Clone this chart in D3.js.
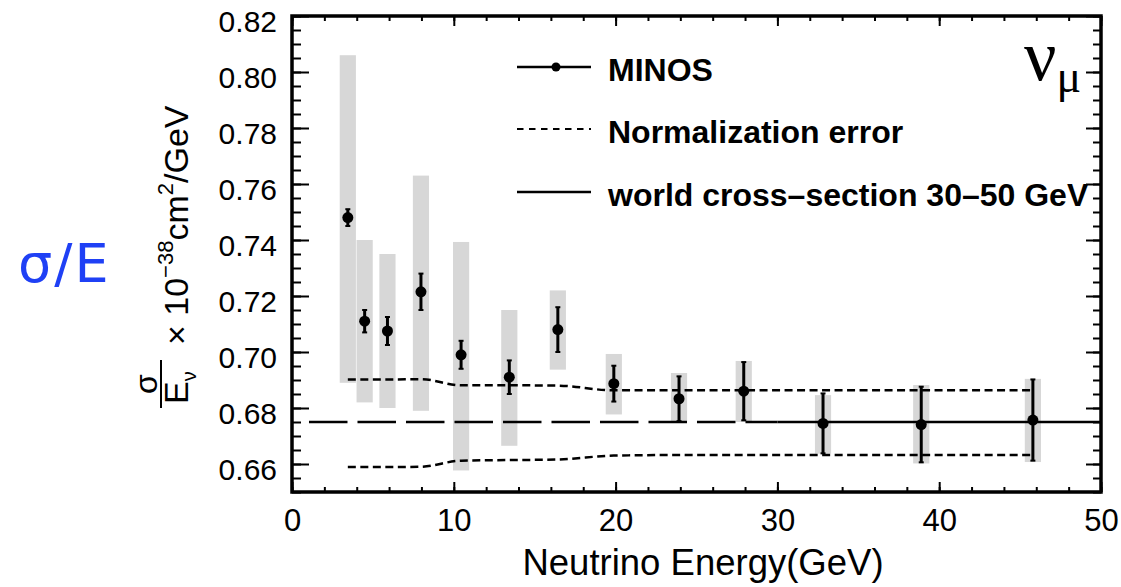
<!DOCTYPE html>
<html>
<head>
<meta charset="utf-8">
<script src="https://cdn.jsdelivr.net/npm/d3@7"></script>
<style>
  body { margin: 0; background: #fff; }
  text { font-family: "Liberation Sans", Arial, sans-serif; }
</style>
</head>
<body>
<svg id="chart" width="1121" height="587"></svg>
<script>
// MINOS nu_mu cross-section / energy
var energy   = [3.45, 4.49, 5.90, 7.97, 10.45, 13.43, 16.43, 19.89, 23.92, 27.92, 32.82, 38.89, 45.79];
var sigmaE   = [0.748, 0.711, 0.7075, 0.7215, 0.699, 0.691, 0.708, 0.6887, 0.6833, 0.686, 0.6745, 0.6741, 0.6757];
var statErr  = [0.003, 0.004, 0.005, 0.0065, 0.005, 0.006, 0.008, 0.0064, 0.008, 0.0104, 0.0107, 0.0135, 0.0145];
var bandLow  = [0.689, 0.682, 0.680, 0.679, 0.6577, 0.6665, 0.6937, 0.6777, 0.675, 0.675, 0.6637, 0.6602, 0.6607];
var bandHigh = [0.806, 0.740, 0.735, 0.763, 0.7393, 0.715, 0.722, 0.6993, 0.6925, 0.6968, 0.6846, 0.6882, 0.6904];
var binHalf  = 0.5;

// normalization error envelope
var normUpper = [0.6902, 0.6902, 0.6902, 0.6903, 0.6881, 0.6881, 0.6880, 0.6863, 0.6863, 0.6863, 0.6863, 0.6863, 0.6863];
var normLower = [0.6589, 0.6589, 0.6589, 0.6590, 0.6612, 0.6614, 0.6616, 0.6630, 0.6632, 0.6632, 0.6632, 0.6632, 0.6632];

// world average (fit 30-50 GeV), extrapolated below 30
var worldValue  = 0.675;
var worldDashed = [1.05, 30];
var worldSolid  = [30, 50];

var xTicks = [0, 10, 20, 30, 40, 50];
var yTicks = [0.66, 0.68, 0.70, 0.72, 0.74, 0.76, 0.78, 0.80, 0.82];

var legendLabels = ["MINOS", "Normalization error", "world cross\u2013section 30\u201350 GeV"];

(function () {
  var svg = d3.select("#chart");
  var pLeft = 292, pRight = 1101, pTop = 16, pBottom = 492;

  var x = d3.scaleLinear().domain([0, 50]).range([pLeft, pRight]);
  var y = d3.scaleLinear().domain([0.65, 0.82]).range([pBottom, pTop]);

  var pts = energy.map(function (e, i) {
    return {e: e, v: sigmaE[i], err: statErr[i], lo: bandLow[i], hi: bandHigh[i], up: normUpper[i], dn: normLower[i]};
  });

  // systematic bands
  svg.append("g").selectAll("rect").data(pts).enter().append("rect")
    .attr("x", d => x(d.e - binHalf))
    .attr("width", d => x(d.e + binHalf) - x(d.e - binHalf))
    .attr("y", d => y(d.hi))
    .attr("height", d => y(d.lo) - y(d.hi))
    .attr("fill", "#d7d7d7");

  // normalization curves
  var upLine = d3.line().x(d => x(d.e)).y(d => y(d.up)).curve(d3.curveMonotoneX);
  var dnLine = d3.line().x(d => x(d.e)).y(d => y(d.dn)).curve(d3.curveMonotoneX);
  [upLine, dnLine].forEach(function (ln) {
    svg.append("path").datum(pts).attr("d", ln)
      .attr("fill", "none").attr("stroke", "#000")
      .attr("stroke-width", 2.5).attr("stroke-dasharray", "8,4.5");
  });

  // world line
  svg.append("line")
    .attr("x1", x(worldDashed[0])).attr("x2", x(worldDashed[1]))
    .attr("y1", y(worldValue)).attr("y2", y(worldValue))
    .attr("stroke", "#000").attr("stroke-width", 2.6).attr("stroke-dasharray", "38.5,10");
  svg.append("line")
    .attr("x1", x(worldSolid[0])).attr("x2", x(worldSolid[1]))
    .attr("y1", y(worldValue)).attr("y2", y(worldValue))
    .attr("stroke", "#000").attr("stroke-width", 2.6);

  // error bars + points
  var eb = svg.append("g").attr("stroke", "#000");
  eb.selectAll("line.bar").data(pts).enter().append("line").attr("class", "bar")
    .attr("x1", d => x(d.e)).attr("x2", d => x(d.e))
    .attr("y1", d => y(d.v + d.err)).attr("y2", d => y(d.v - d.err))
    .attr("stroke-width", 3);
  eb.selectAll("line.capt").data(pts).enter().append("line").attr("class", "capt")
    .attr("x1", d => x(d.e) - 2.5).attr("x2", d => x(d.e) + 2.5)
    .attr("y1", d => y(d.v + d.err)).attr("y2", d => y(d.v + d.err))
    .attr("stroke-width", 2);
  eb.selectAll("line.capb").data(pts).enter().append("line").attr("class", "capb")
    .attr("x1", d => x(d.e) - 2.5).attr("x2", d => x(d.e) + 2.5)
    .attr("y1", d => y(d.v - d.err)).attr("y2", d => y(d.v - d.err))
    .attr("stroke-width", 2);
  svg.append("g").selectAll("circle").data(pts).enter().append("circle")
    .attr("cx", d => x(d.e)).attr("cy", d => y(d.v)).attr("r", 5.5).attr("fill", "#000");

  // axes (ticks inward like ROOT)
  function styleAxis(g, fs) {
    g.select(".domain").remove();
    g.selectAll(".tick line").attr("stroke", "#000").attr("stroke-width", 2);
    g.selectAll("text").attr("font-family", "Liberation Sans, Arial, sans-serif")
      .attr("font-size", fs).attr("fill", "#000");
  }
  var yMinor = d3.range(0, 35).map(i => 0.65 + i * 0.005);
  var xMinor = d3.range(0, 26).map(i => i * 2);

  svg.append("g").attr("transform", "translate(" + pLeft + ",0)")
    .call(d3.axisLeft(y).tickValues(yMinor).tickSize(-9).tickFormat(""))
    .call(g => styleAxis(g, 0));
  svg.append("g").attr("transform", "translate(" + pLeft + ",0)")
    .call(d3.axisLeft(y).tickValues(yTicks).tickSize(-17).tickPadding(15).tickFormat(d3.format(".2f")))
    .call(g => { styleAxis(g, 30); g.selectAll("text").attr("dy", "0.5em"); });
  svg.append("g").attr("transform", "translate(" + pRight + ",0)")
    .call(d3.axisRight(y).tickValues(yMinor).tickSize(-8).tickFormat(""))
    .call(g => styleAxis(g, 0));
  svg.append("g").attr("transform", "translate(" + pRight + ",0)")
    .call(d3.axisRight(y).tickValues(yTicks).tickSize(-15).tickFormat(""))
    .call(g => styleAxis(g, 0));

  svg.append("g").attr("transform", "translate(0," + pBottom + ")")
    .call(d3.axisBottom(x).tickValues(xMinor).tickSize(-5).tickFormat(""))
    .call(g => styleAxis(g, 0));
  svg.append("g").attr("transform", "translate(0," + pBottom + ")")
    .call(d3.axisBottom(x).tickValues(xTicks).tickSize(-10).tickPadding(17).tickFormat(d3.format("d")))
    .call(g => styleAxis(g, 31));
  svg.append("g").attr("transform", "translate(0," + pTop + ")")
    .call(d3.axisTop(x).tickValues(xMinor).tickSize(-5).tickFormat(""))
    .call(g => styleAxis(g, 0));
  svg.append("g").attr("transform", "translate(0," + pTop + ")")
    .call(d3.axisTop(x).tickValues(xTicks).tickSize(-10).tickFormat(""))
    .call(g => styleAxis(g, 0));

  // frame
  svg.append("rect")
    .attr("x", pLeft).attr("y", pTop).attr("width", pRight - pLeft).attr("height", pBottom - pTop)
    .attr("fill", "none").attr("stroke", "#000").attr("stroke-width", 3.5);

  // x title
  svg.append("text").attr("x", 703).attr("y", 575).attr("text-anchor", "middle")
    .attr("font-size", 36.5).text("Neutrino Energy(GeV)");

  // y title (rotated)
  var yt = svg.append("g").attr("transform", "translate(188,410) rotate(-90)");
  yt.append("line").attr("x1", 2).attr("x2", 50).attr("y1", -27).attr("y2", -27)
    .attr("stroke", "#000").attr("stroke-width", 2);
  yt.append("text").attr("x", 26).attr("y", -31).attr("text-anchor", "middle")
    .attr("font-size", 32).text("\u03c3");
  var et = yt.append("text").attr("x", 6).attr("y", 0).attr("font-size", 34);
  et.append("tspan").text("E");
  et.append("tspan").attr("font-size", 20).attr("dy", 8).text("\u03bd");
  var mt = yt.append("text").attr("x", 65).attr("y", 0).attr("font-size", 34);
  mt.append("tspan").text("\u00d7 10");
  mt.append("tspan").attr("font-size", 22).attr("dy", -15).text("\u221238");
  mt.append("tspan").attr("dy", 15).text("cm");
  mt.append("tspan").attr("font-size", 22).attr("dy", -15).text("2");
  mt.append("tspan").attr("dy", 15).text("/GeV");

  // legend
  var lg = svg.append("g");
  var legY = [67, 129, 192];
  lg.append("line").attr("x1", 517).attr("x2", 591).attr("y1", legY[0]).attr("y2", legY[0])
    .attr("stroke", "#000").attr("stroke-width", 2.5);
  lg.append("circle").attr("cx", 556).attr("cy", legY[0]).attr("r", 4.5).attr("fill", "#000");
  lg.append("line").attr("x1", 517).attr("x2", 591).attr("y1", legY[1]).attr("y2", legY[1])
    .attr("stroke", "#000").attr("stroke-width", 2.2).attr("stroke-dasharray", "6.5,5.5");
  lg.append("line").attr("x1", 517).attr("x2", 591).attr("y1", legY[2]).attr("y2", legY[2])
    .attr("stroke", "#000").attr("stroke-width", 2.5);
  lg.selectAll("text").data(legendLabels).enter().append("text")
    .attr("x", 608).attr("y", (d, i) => legY[i] + 14)
    .attr("font-size", 32).attr("font-weight", "bold").text(d => d);

  // nu_mu tag
  var nu = svg.append("text").attr("x", 1024).attr("y", 80)
    .style("font-family", "'Liberation Serif', 'DejaVu Serif', serif").attr("font-size", 72);
  nu.append("tspan").text("\u03bd");
  nu.append("tspan").attr("font-size", 46).attr("dy", 12).text("\u03bc");

  // blue annotation
  svg.append("text").attr("x", 18).attr("y", 282)
    .style("font-family", "'DejaVu Sans', sans-serif").attr("font-size", 54)
    .attr("letter-spacing", 2).attr("fill", "#1f40f5").text("\u03c3/E");
})();
</script>
</body>
</html>
